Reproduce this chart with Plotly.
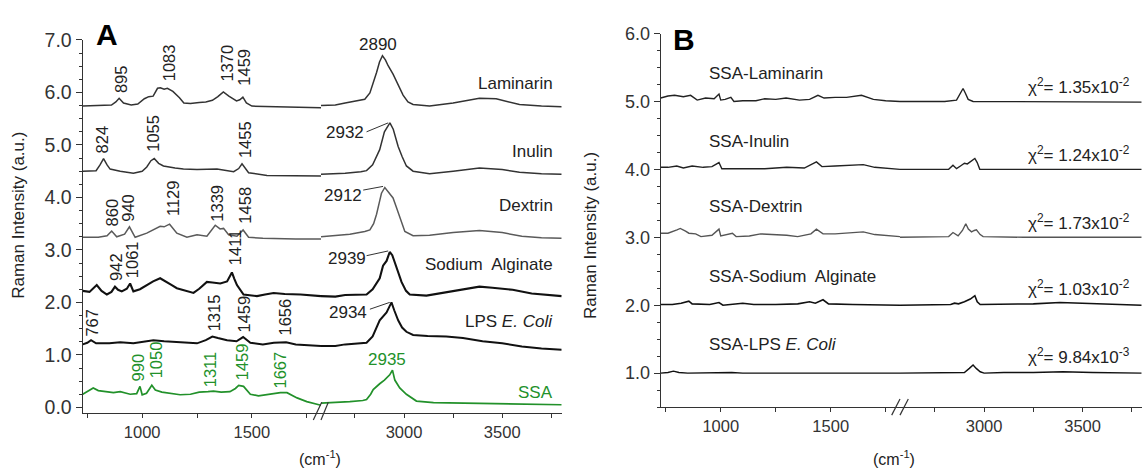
import plotly.graph_objects as go

# ---------------- Panel A data (wavenumber cm-1, offset Raman intensity) ----------------
lam_lo_x = [729, 800, 860, 880, 895, 915, 950, 980, 1010, 1030, 1050, 1070, 1083, 1100, 1115, 1140, 1170, 1190, 1220, 1260, 1290, 1320, 1345, 1370, 1395, 1430, 1445, 1459, 1475, 1500, 1600, 1700, 1815]
lam_lo_y = [5.74, 5.75, 5.76, 5.82, 5.89, 5.80, 5.76, 5.78, 5.88, 5.92, 5.93, 6.08, 6.09, 6.06, 6.08, 6.02, 5.90, 5.80, 5.79, 5.81, 5.82, 5.85, 5.92, 6.01, 5.93, 5.84, 5.86, 5.91, 5.80, 5.74, 5.73, 5.72, 5.71]
lam_hi_x = [2577, 2650, 2700, 2750, 2800, 2826, 2845, 2860, 2875, 2890, 2905, 2919, 2944, 2970, 2995, 3020, 3046, 3130, 3250, 3384, 3469, 3588, 3700, 3803]
lam_hi_y = [5.75, 5.76, 5.80, 5.84, 5.87, 5.99, 6.20, 6.38, 6.58, 6.70, 6.62, 6.51, 6.35, 6.15, 5.95, 5.82, 5.77, 5.74, 5.80, 5.89, 5.88, 5.77, 5.74, 5.73]

inu_lo_x = [729, 790, 808, 824, 840, 854, 900, 960, 1000, 1021, 1040, 1055, 1075, 1097, 1150, 1188, 1250, 1300, 1341, 1417, 1440, 1455, 1470, 1485, 1569, 1700, 1815]
inu_lo_y = [4.50, 4.51, 4.62, 4.74, 4.62, 4.54, 4.50, 4.46, 4.50, 4.58, 4.70, 4.74, 4.65, 4.60, 4.56, 4.54, 4.53, 4.54, 4.54, 4.49, 4.55, 4.64, 4.55, 4.47, 4.42, 4.41, 4.41]
inu_hi_x = [2577, 2700, 2780, 2809, 2840, 2876, 2900, 2928, 2945, 2970, 2990, 3012, 3046, 3130, 3250, 3384, 3500, 3588, 3700, 3803]
inu_hi_y = [4.44, 4.46, 4.49, 4.51, 4.62, 4.91, 5.25, 5.42, 5.30, 4.97, 4.78, 4.60, 4.50, 4.45, 4.50, 4.56, 4.53, 4.48, 4.45, 4.44]

dex_lo_x = [729, 800, 840, 861, 884, 920, 942, 968, 1021, 1060, 1082, 1100, 1125, 1158, 1204, 1250, 1295, 1333, 1355, 1371, 1394, 1432, 1460, 1485, 1550, 1700, 1815]
dex_lo_y = [3.24, 3.24, 3.27, 3.36, 3.25, 3.30, 3.44, 3.24, 3.32, 3.40, 3.45, 3.44, 3.49, 3.32, 3.24, 3.29, 3.26, 3.47, 3.40, 3.41, 3.29, 3.26, 3.38, 3.24, 3.22, 3.21, 3.21]
dex_hi_x = [2577, 2650, 2724, 2800, 2826, 2845, 2860, 2875, 2885, 2902, 2919, 2944, 2960, 2978, 3004, 3046, 3130, 3250, 3384, 3500, 3600, 3700, 3803]
dex_hi_y = [3.25, 3.27, 3.30, 3.35, 3.38, 3.50, 3.68, 3.92, 4.08, 4.19, 4.11, 3.99, 3.82, 3.62, 3.35, 3.27, 3.28, 3.33, 3.37, 3.33, 3.26, 3.23, 3.22]

alg_lo_x = [729, 760, 793, 815, 839, 860, 876, 890, 907, 930, 945, 960, 990, 1021, 1050, 1082, 1100, 1113, 1135, 1158, 1200, 1234, 1260, 1295, 1320, 1356, 1387, 1409, 1420, 1432, 1462, 1490, 1523, 1560, 1599, 1650, 1722, 1815]
alg_lo_y = [2.22, 2.20, 2.33, 2.22, 2.15, 2.20, 2.30, 2.24, 2.21, 2.26, 2.36, 2.21, 2.25, 2.33, 2.40, 2.46, 2.42, 2.39, 2.33, 2.27, 2.22, 2.18, 2.26, 2.39, 2.38, 2.36, 2.40, 2.57, 2.45, 2.33, 2.15, 2.14, 2.12, 2.15, 2.18, 2.16, 2.15, 2.12]
alg_hi_x = [2577, 2650, 2700, 2760, 2809, 2840, 2876, 2893, 2911, 2927, 2940, 2953, 2970, 2987, 3010, 3029, 3114, 3200, 3300, 3384, 3450, 3553, 3650, 3803]
alg_hi_y = [2.12, 2.11, 2.14, 2.15, 2.15, 2.25, 2.46, 2.70, 2.79, 2.96, 2.90, 2.76, 2.58, 2.39, 2.22, 2.15, 2.13, 2.18, 2.24, 2.30, 2.28, 2.24, 2.17, 2.12]

lps_lo_x = [729, 750, 767, 790, 850, 900, 960, 1000, 1051, 1100, 1150, 1200, 1250, 1290, 1320, 1345, 1387, 1430, 1460, 1493, 1550, 1600, 1656, 1700, 1760, 1815]
lps_lo_y = [1.20, 1.23, 1.28, 1.22, 1.22, 1.24, 1.22, 1.25, 1.28, 1.26, 1.25, 1.24, 1.22, 1.28, 1.35, 1.32, 1.28, 1.26, 1.34, 1.23, 1.20, 1.23, 1.24, 1.20, 1.19, 1.17]
lps_hi_x = [2577, 2650, 2700, 2760, 2809, 2840, 2876, 2911, 2936, 2950, 2970, 2990, 3012, 3046, 3120, 3215, 3300, 3400, 3500, 3600, 3700, 3803]
lps_hi_y = [1.17, 1.17, 1.20, 1.22, 1.23, 1.35, 1.66, 1.81, 2.00, 1.85, 1.66, 1.52, 1.44, 1.38, 1.36, 1.35, 1.32, 1.26, 1.22, 1.16, 1.12, 1.10]

ssa_lo_x = [729, 750, 777, 800, 830, 869, 900, 945, 975, 990, 1000, 1020, 1044, 1060, 1090, 1130, 1173, 1220, 1260, 1300, 1325, 1360, 1400, 1425, 1440, 1462, 1480, 1493, 1530, 1580, 1630, 1660, 1706, 1750, 1782, 1815]
ssa_lo_y = [0.25, 0.30, 0.37, 0.32, 0.30, 0.28, 0.30, 0.25, 0.26, 0.40, 0.24, 0.27, 0.42, 0.33, 0.29, 0.27, 0.24, 0.25, 0.29, 0.30, 0.31, 0.29, 0.30, 0.36, 0.42, 0.40, 0.32, 0.25, 0.22, 0.25, 0.28, 0.28, 0.18, 0.11, 0.07, 0.04]
ssa_hi_x = [2577, 2650, 2724, 2790, 2809, 2830, 2843, 2876, 2900, 2927, 2941, 2953, 2965, 2978, 3012, 3063, 3150, 3300, 3500, 3650, 3803]
ssa_hi_y = [0.08, 0.09, 0.11, 0.13, 0.15, 0.25, 0.34, 0.45, 0.52, 0.62, 0.71, 0.52, 0.45, 0.37, 0.25, 0.12, 0.09, 0.08, 0.07, 0.06, 0.05]

# ---------------- Panel B data (SSA fits / residuals, offset) ----------------
blam_lo_x = [727, 760, 790, 830, 863, 893, 931, 970, 992, 1000, 1020, 1046, 1060, 1100, 1160, 1200, 1250, 1297, 1358, 1404, 1442, 1470, 1520, 1572, 1640, 1694, 1750, 1815]
blam_lo_y = [5.05, 5.08, 5.09, 5.07, 5.09, 5.02, 5.05, 5.04, 5.11, 5.02, 5.03, 5.06, 5.00, 5.01, 5.01, 5.04, 5.03, 5.05, 5.02, 5.03, 5.09, 5.05, 5.06, 5.06, 5.09, 5.03, 5.01, 5.00]
blam_hi_x = [2573, 2700, 2800, 2860, 2880, 2893, 2905, 2919, 2944, 3100, 3400, 3800]
blam_hi_y = [5.00, 5.00, 5.00, 5.02, 5.12, 5.19, 5.12, 5.03, 5.00, 5.00, 5.00, 4.99]

binu_lo_x = [727, 760, 800, 830, 870, 920, 960, 992, 1005, 1050, 1100, 1200, 1300, 1380, 1435, 1460, 1520, 1600, 1648, 1700, 1760, 1815]
binu_lo_y = [4.03, 4.03, 4.05, 4.02, 4.05, 4.03, 4.04, 4.10, 4.01, 4.01, 4.00, 4.01, 4.03, 4.02, 4.11, 4.04, 4.05, 4.06, 4.07, 4.03, 4.02, 4.00]
binu_hi_x = [2573, 2700, 2820, 2842, 2860, 2880, 2900, 2915, 2935, 2953, 2965, 2978, 3100, 3400, 3800]
binu_hi_y = [4.00, 4.00, 4.00, 4.06, 4.01, 4.05, 4.09, 4.08, 4.12, 4.16, 4.10, 4.00, 4.00, 4.00, 4.00]

bdex_lo_x = [727, 760, 801, 816, 840, 855, 886, 910, 960, 992, 1000, 1030, 1053, 1070, 1130, 1181, 1250, 1300, 1350, 1410, 1435, 1465, 1520, 1600, 1648, 1700, 1760, 1815]
bdex_lo_y = [3.06, 3.06, 3.11, 3.13, 3.09, 3.06, 3.05, 3.01, 3.03, 3.12, 3.02, 3.04, 3.06, 3.01, 3.02, 3.05, 3.04, 3.03, 3.01, 3.05, 3.12, 3.05, 3.05, 3.07, 3.08, 3.04, 3.02, 3.01]
bdex_hi_x = [2573, 2700, 2820, 2842, 2868, 2890, 2907, 2920, 2936, 2950, 2961, 2980, 2995, 3200, 3800]
bdex_hi_y = [3.00, 3.00, 3.01, 3.07, 3.02, 3.10, 3.20, 3.12, 3.08, 3.10, 3.11, 3.04, 3.01, 3.00, 3.00]

balg_lo_x = [727, 780, 820, 855, 870, 950, 992, 1010, 1100, 1150, 1250, 1350, 1404, 1430, 1465, 1490, 1600, 1815]
balg_lo_y = [2.01, 2.01, 2.03, 2.06, 2.02, 2.01, 2.04, 2.00, 2.03, 2.01, 2.01, 2.02, 2.05, 2.03, 2.08, 2.02, 2.01, 2.00]
balg_hi_x = [2573, 2700, 2830, 2850, 2870, 2900, 2930, 2953, 2965, 2980, 3100, 3250, 3385, 3500, 3650, 3800]
balg_hi_y = [2.00, 2.00, 2.01, 2.03, 2.02, 2.05, 2.09, 2.14, 2.05, 2.01, 2.01, 2.02, 2.04, 2.03, 2.01, 2.00]

blps_lo_x = [727, 760, 785, 810, 850, 992, 1000, 1050, 1100, 1400, 1440, 1500, 1815]
blps_lo_y = [1.00, 1.01, 1.03, 1.01, 1.00, 1.01, 1.00, 1.01, 1.00, 1.00, 1.01, 1.00, 1.00]
blps_hi_x = [2573, 2850, 2900, 2925, 2944, 2960, 2980, 3000, 3100, 3250, 3400, 3550, 3800]
blps_hi_y = [1.00, 1.00, 1.01, 1.07, 1.12, 1.07, 1.02, 1.00, 1.01, 1.01, 1.02, 1.01, 1.00]

# ---------------- labels ----------------
a_names = ["Laminarin", "Inulin", "Dextrin", "Sodium\u00a0 Alginate", "LPS <i>E. Coli</i>", "SSA"]
b_names = ["SSA-Laminarin", "SSA-Inulin", "SSA-Dextrin", "SSA-Sodium\u00a0 Alginate", "SSA-LPS <i>E. Coli</i>"]
chi2_text = ["1.35x10<sup>-2</sup>", "1.24x10<sup>-2</sup>", "1.73x10<sup>-2</sup>", "1.03x10<sup>-2</sup>", "9.84x10<sup>-3</sup>"]

GREEN = "#22912a"
FONT = "Arial, Liberation Sans, sans-serif"
W, H = 1145, 472

def px_x(p):
    return p / W

def px_y(p):
    return 1 - p / H

fig = go.Figure()

def add(xlo, ylo, xhi, yhi, color, width, xa_lo, xa_hi, ya):
    fig.add_trace(go.Scatter(x=xlo, y=ylo, mode="lines", line=dict(color=color, width=width),
                             xaxis=xa_lo, yaxis=ya, showlegend=False, hoverinfo="skip", cliponaxis=False))
    fig.add_trace(go.Scatter(x=xhi, y=yhi, mode="lines", line=dict(color=color, width=width),
                             xaxis=xa_hi, yaxis=ya, showlegend=False, hoverinfo="skip", cliponaxis=False))

add(lam_lo_x, lam_lo_y, lam_hi_x, lam_hi_y, "#333333", 1.5, "x", "x2", "y")
add(inu_lo_x, inu_lo_y, inu_hi_x, inu_hi_y, "#333333", 1.5, "x", "x2", "y")
add(dex_lo_x, dex_lo_y, dex_hi_x, dex_hi_y, "#5a5a5a", 1.5, "x", "x2", "y")
add(alg_lo_x, alg_lo_y, alg_hi_x, alg_hi_y, "#111111", 2.1, "x", "x2", "y")
add(lps_lo_x, lps_lo_y, lps_hi_x, lps_hi_y, "#111111", 2.0, "x", "x2", "y")
add(ssa_lo_x, ssa_lo_y, ssa_hi_x, ssa_hi_y, GREEN, 1.7, "x", "x2", "y")

add(blam_lo_x, blam_lo_y, blam_hi_x, blam_hi_y, "#222222", 1.4, "x3", "x4", "y2")
add(binu_lo_x, binu_lo_y, binu_hi_x, binu_hi_y, "#222222", 1.4, "x3", "x4", "y2")
add(bdex_lo_x, bdex_lo_y, bdex_hi_x, bdex_hi_y, "#555555", 1.4, "x3", "x4", "y2")
add(balg_lo_x, balg_lo_y, balg_hi_x, balg_hi_y, "#111111", 1.6, "x3", "x4", "y2")
add(blps_lo_x, blps_lo_y, blps_hi_x, blps_hi_y, "#111111", 1.4, "x3", "x4", "y2")

AX = "#333333"
xcommon = dict(showline=True, linecolor=AX, linewidth=1.2, ticks="outside", ticklen=4, tickcolor=AX,
               showgrid=False, zeroline=False, dtick=500, tick0=0,
               tickfont=dict(family=FONT, size=16.5, color="#333333"),
               minor=dict(dtick=250, tick0=0, ticks="outside", ticklen=4, tickcolor=AX, showgrid=False))
ycommon = dict(showline=True, linecolor=AX, linewidth=1.2, ticks="outside", ticklen=6, tickcolor=AX,
               showgrid=False, zeroline=False, dtick=1, tickformat=".1f",
               minor=dict(dtick=0.25, ticks="outside", ticklen=3, tickcolor=AX, showgrid=False))

A_L, A_B, A_R = 82.7, 321.0, 561.7
B_L, B_B, B_R = 660.7, 900.0, 1141.7

fig.update_layout(
    width=W, height=H, margin=dict(l=0, r=0, t=0, b=0), autosize=False,
    paper_bgcolor="white", plot_bgcolor="white",
    font=dict(family=FONT, color="#222222"),
    xaxis=dict(xcommon, domain=[px_x(A_L), px_x(A_B)], range=[729, 1815], anchor="y"),
    xaxis2=dict(xcommon, domain=[px_x(A_B), px_x(A_R)], range=[2577, 3803], anchor="y"),
    xaxis3=dict(xcommon, domain=[px_x(B_L), px_x(B_B)], range=[727, 1815], anchor="y2"),
    xaxis4=dict(xcommon, domain=[px_x(B_B), px_x(B_R)], range=[2573, 3800], anchor="y2"),
    yaxis=dict(ycommon, domain=[px_y(415.7), px_y(30)], range=[-0.1, 7.0], anchor="x",
               tickfont=dict(family=FONT, size=19.5, color="#333333")),
    yaxis2=dict(ycommon, domain=[px_y(410), px_y(23.3)], range=[0.5, 6.0], anchor="x3",
                tickfont=dict(family=FONT, size=18, color="#333333")),
)

ann = []
def note(text, x, y, xref, yref, size=17, color="#222222", angle=0, xanchor="center", yanchor="middle"):
    ann.append(dict(text=text, x=x, y=y, xref=xref, yref=yref, showarrow=False, textangle=angle,
                    xanchor=xanchor, yanchor=yanchor, font=dict(family=FONT, size=size, color=color)))

# rotated peak labels (panel A, low range)
rot_labels = [("895", 907, 6.25), ("1083", 1123, 6.56), ("1370", 1389, 6.56), ("1459", 1466, 6.48),
              ("824", 818, 5.11), ("1055", 1051, 5.22), ("1455", 1466, 5.10),
              ("860", 864, 3.72), ("940", 937, 3.81), ("1129", 1143, 3.98), ("1339", 1341, 3.90), ("1458", 1468, 3.86),
              ("942", 884, 2.67), ("1061", 955, 2.81), ("1411", 1420, 3.04),
              ("767", 770, 1.61), ("1315", 1325, 1.80), ("1459", 1462, 1.78), ("1656", 1653, 1.72)]
for t, x, y in rot_labels:
    note(t, x, y, "x", "y", size=16.5, angle=-90)
green_labels = [("990", 983, 0.77), ("1050", 1062, 0.91), ("1311", 1310, 0.71), ("1459", 1455, 0.86), ("1667", 1630, 0.71)]
for t, x, y in green_labels:
    note(t, x, y, "x", "y", size=16.5, angle=-90, color=GREEN)

# horizontal peak labels (high range)
hi_labels = [("2890", 2868, 6.91), ("2932", 2699, 5.24), ("2912", 2690, 4.04), ("2939", 2708, 2.84), ("2934", 2716, 1.80)]
for t, x, y in hi_labels:
    note(t, x, y, "x2", "y", size=17)
note("2935", 2915, 0.92, "x2", "y", size=17, color=GREEN)

shapes = []
leaders = [((2809, 5.25), (2919, 5.42)), ((2792, 4.14), (2893, 4.21)), ((2809, 2.89), (2919, 2.98)), ((2826, 1.87), (2927, 2.00))]
for (x0, y0), (x1, y1) in leaders:
    shapes.append(dict(type="line", xref="x2", yref="y", x0=x0, y0=y0, x1=x1, y1=y1, line=dict(color="#333333", width=1)))

# sample names, panel A
a_name_y = [6.17, 4.88, 3.84, 2.73, 1.63, 0.28]
for t, y in zip(a_names, a_name_y):
    note(t, 3770, y, "x2", "y", size=17, color=GREEN if t == "SSA" else "#222222", xanchor="right")

# panel B names and chi2
b_name_y = [5.41, 4.41, 3.46, 2.42, 1.42]
chi_y = [5.23, 4.22, 3.23, 2.25, 1.25]
for t, y in zip(b_names, b_name_y):
    note(t, 939, y, "x3", "y2", size=17, xanchor="left")
for t, y in zip(chi2_text, chi_y):
    note("\u03c7<sup>2</sup>= " + t, 3750, y, "x4", "y2", size=17, xanchor="right")

# axis titles & panel letters
note("Raman Intensity (a.u.)", px_x(19), px_y(212), "paper", "paper", size=17, angle=-90)
note("Raman Intensity (a.u.)", px_x(590), px_y(233), "paper", "paper", size=17, angle=-90)
note("(cm<sup>-1</sup>)", px_x(320), px_y(463), "paper", "paper", size=16)
note("(cm<sup>-1</sup>)", px_x(894), px_y(463), "paper", "paper", size=16)
note("<b>A</b>", px_x(107), px_y(24), "paper", "paper", size=30, color="#000000")
note("<b>B</b>", px_x(684), px_y(29), "paper", "paper", size=30, color="#000000")

# axis-break marks
for (xa, xb, y0, y1) in [(313.3, 321.7, 423.3, 405.0), (321.0, 328.3, 423.3, 405.0),
                         (891.7, 900.0, 418.3, 401.7), (900.0, 908.3, 418.3, 401.7)]:
    shapes.append(dict(type="line", xref="paper", yref="paper", x0=px_x(xa), x1=px_x(xb),
                       y0=px_y(y0), y1=px_y(y1), line=dict(color="#333333", width=1.2)))

fig.update_layout(annotations=ann, shapes=shapes)
fig.write_html("out.html")
